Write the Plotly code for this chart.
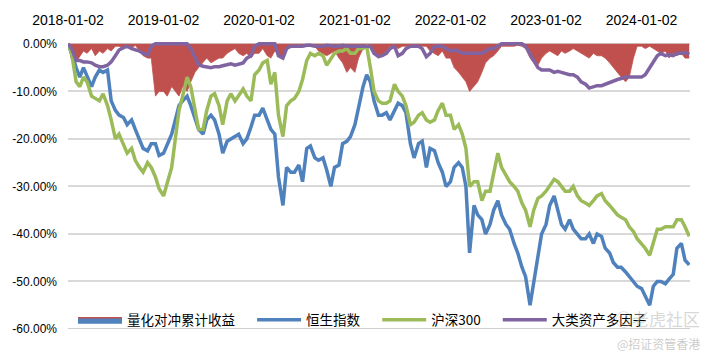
import plotly.graph_objects as go

# semi-monthly observation dates (category axis of the chart)
DATES = [f"{y}-{m:02d}-{d:02d}" for y in range(2018, 2025) for m in range(1, 13)
         for d in (2, 16) if (y, m, d) <= (2024, 7, 2)]

# 量化对冲累计收益 (drawdown, %)
HEDGE = (
    [0, -3.5, -3.8, -2.5, -1.5, -2, -1, -2.5, -1.5, -2, -1, -1.5, -0.5, -0.5, -1, -0.5, -1, -0.3, -1.5, -2.5, -3, -3, -11, -10]
    + [-10, -11, -9, -10, -11, -9, -10, -8, -6, -5, -4, -3, -4, -3.5, -3, -3, -2, -1.5, -1, -2, -2.5, -2, -3, -2]
    + [-2, -1, -2.5, -3, -1.5, -2, -3, -1, -0.5, -0.5, -0.3, -0.5, -0.5, -0.3, -0.5, -1.5, -2, -2.5, -2, -1.5, -3, -4, -6, -5]
    + [-6, -3, -1, 0, -1, -2, -3, -2.5, -1.5, -0.5, -0.5, -1, -0.5, -0.5, -0.5, -0.3, -0.5, -0.5, -0.5, -1.5, -2, -2.5, -1.5, -3]
    + [-3, -5, -6, -7, -8, -10, -9, -8, -6, -4, -3, -2.5, -1.5, -0.5, -0.5, -0.5, -0.5, -0.3, -0.5, -1, -3, -4, -4.5, -3]
    + [-2, -1.5, -2, -2.5, -1.5, -2, -1.5, -1, -1.5, -2, -2.5, -3, -2, -2.5, -2.5, -3, -4, -5, -6, -7, -8, -7, -3, -0.5]
    + [-0.5, -1, -0.5, -1, -1.5, -2, -1.5, -3, -2, -2.5, -2, -3, -3]
)

# 恒生指数
HSI = (
    [0, -2, -5, -7, -5, -7, -9, -7, -5.5, -6, -5.5, -12, -14, -15, -15.5, -17, -16, -18, -20, -22, -22.5, -21, -21, -23.5]
    + [-23, -21, -19, -16, -13, -12, -11, -13, -16, -18, -19, -16, -15, -16, -19, -23, -20.5, -20, -19.5, -19, -21, -20, -17.5, -15]
    + [-15, -13.5, -16, -18, -19, -28, -34, -26, -27, -27, -25.5, -29, -22, -21.5, -24, -24.5, -24, -26.5, -30, -26, -25.5, -21, -20.5, -19.5]
    + [-17, -13, -9, -6.5, -8, -12, -15, -15, -14.5, -16, -14, -12.5, -13, -14.5, -21, -24, -21, -20.5, -26, -22, -22.5, -25, -27, -30]
    + [-29, -26, -25, -26, -30, -44, -34, -36, -37, -40, -38, -35, -33, -36, -38, -39, -42, -44, -47, -49, -55, -50, -44, -40]
    + [-38, -34, -32, -35, -38, -39, -37, -39, -40, -41, -41, -40, -42, -40, -40.5, -43, -44, -46, -47, -47, -48, -49, -50, -51]
    + [-51.5, -53, -55, -51, -50, -50, -50.5, -49.5, -48.5, -43, -42, -45.5, -46.5]
)

# 沪深300
CSI300 = (
    [0, -2, -8, -9, -7, -8, -11, -11.5, -12, -10.5, -13, -16, -20, -19, -21, -23, -22, -24.5, -26, -27, -25, -26, -28, -30.5]
    + [-32, -29, -26, -20, -14, -11, -7, -9, -14, -18, -18, -14, -11, -10.5, -13, -17, -12, -10.5, -12, -11, -9.5, -11, -12, -6.5]
    + [-5.5, -4, -3.5, -8.5, -6, -15, -19.5, -13, -12, -11.5, -10, -7.5, -3.5, -2, -2.5, -2, -2.5, -4.5, -3, -2, -1.5, -1.5, -1, -2]
    + [-2, -1, -1, -0.5, -5, -10, -12, -12.5, -12.5, -12, -8.5, -10, -11, -13, -17, -16.5, -15, -14.5, -16, -16.5, -16, -14, -12.5, -15]
    + [-15, -18, -17, -19, -22, -30, -29, -29, -33, -31, -31, -27, -23, -26, -27.5, -29, -30, -31, -33.5, -35, -38.5, -35, -32.5, -32]
    + [-31, -30, -28.5, -29, -30, -31, -31, -30, -32, -33, -33.5, -34, -33, -32, -31.5, -33, -34, -35, -36, -36.5, -37, -38.5, -39.5, -41]
    + [-42, -43, -44.5, -42, -39, -39, -38.5, -38.5, -38.5, -37, -37, -38.5, -40.5]
)

# 大类资产多因子
MULTI = (
    [0, -1, -3.5, -3.5, -3.8, -3.8, -4, -4.5, -4.8, -4.8, -4.5, -3.8, -2.5, -1.3, -0.8, -0.5, -1, -1.2, -1.5, -2, -2.3, -0.5, 0, 0]
    + [0, 0, 0, 0, 0, 0, 0, -1, -3, -4.4, -4.7, -4.8, -5, -4.8, -4.8, -4.6, -4.3, -4.2, -4.5, -4.2, -4, -3, -2.5, -0.5]
    + [0, 0, 0, 0, 0, -2.5, -3, -1, -0.5, -0.5, -0.5, -0.5, -0.3, -0.3, -0.5, -0.5, -0.5, -0.3, -0.5, -0.5, -0.5, -0.3, -0.5, -0.5]
    + [-0.5, -0.5, -0.5, -0.5, -0.5, -2, -2.7, -2.5, -2, -1, -0.5, -2.5, -2, -1, -0.5, -0.5, -0.5, -1, -2.7, -2, -0.5, -0.5, -0.5, -1]
    + [-1.5, -1.3, -1.5, -2, -2, -2, -2, -2, -2, -1.5, -1, -1, -0.5, 0, 0, 0, 0, 0, 0, -0.5, -2, -3.5, -5, -5.5]
    + [-5.5, -5.5, -6, -5.8, -6, -6.2, -6.5, -6.5, -7, -8, -8.5, -9.3, -9, -8.8, -8.8, -8.5, -8, -7.8, -7.5, -7.3, -7, -7, -7, -7]
    + [-7, -6.5, -5, -3.5, -2.5, -2, -2.5, -2.3, -2.5, -2, -2, -1.8, -2.2]
)

assert len(DATES) == len(HEDGE) == len(HSI) == len(CSI300) == len(MULTI), (
    len(DATES), len(HEDGE), len(HSI), len(CSI300), len(MULTI))

SERIES_NAMES = ["量化对冲累计收益", "恒生指数", "沪深300", "大类资产多因子"]
X_TICKS = ["2018-01-02", "2019-01-02", "2020-01-02", "2021-01-02",
           "2022-01-02", "2023-01-02", "2024-01-02"]
Y_TICKS = [0, -10, -20, -30, -40, -50, -60]
Y_TICK_TEXT = ["0.00%", "-10.00%", "-20.00%", "-30.00%", "-40.00%", "-50.00%", "-60.00%"]
X_RANGE = ["2018-01-02", "2024-07-05"]
Y_RANGE = [-60, 0.6]

RED, BLUE, GREEN, PURPLE = "#C0504D", "#4F81BD", "#9BBB59", "#8064A2"
PAD = "\u00a0\u00a0\u00a0\u00a0"

fig = go.Figure()
fig.add_trace(go.Scatter(x=DATES, y=HEDGE, mode="lines", fill="tozeroy",
                         fillcolor=RED, line=dict(color=RED, width=0.8),
                         showlegend=False, hoverinfo="skip"))
# legend proxy (Excel shows a blue box with red border)
fig.add_trace(go.Scatter(x=[None], y=[None], mode="lines", fill="toself",
                         fillcolor=BLUE, line=dict(color=RED, width=1.5),
                         name=SERIES_NAMES[0] + PAD))
fig.add_trace(go.Scatter(x=DATES, y=HSI, mode="lines", name=SERIES_NAMES[1] + PAD,
                         line=dict(color=BLUE, width=3.5)))
fig.add_trace(go.Scatter(x=DATES, y=CSI300, mode="lines", name=SERIES_NAMES[2] + PAD,
                         line=dict(color=GREEN, width=3.5)))
fig.add_trace(go.Scatter(x=DATES, y=MULTI, mode="lines", name=SERIES_NAMES[3],
                         line=dict(color=PURPLE, width=3.5)))

fig.update_layout(
    width=712, height=356,
    margin=dict(l=68, r=22, t=41, b=27),
    paper_bgcolor="white", plot_bgcolor="white",
    font=dict(family="Liberation Sans, Arial, sans-serif", color="#000000"),
    legend=dict(orientation="h", x=0.008, y=0.031, xanchor="left", yanchor="middle",
                bgcolor="rgba(0,0,0,0)", itemwidth=44,
                font=dict(family="Noto Sans CJK SC, sans-serif", size=13.5, color="#000")),
    xaxis=dict(type="date", range=X_RANGE, side="top", tickvals=X_TICKS, ticktext=X_TICKS,
               showgrid=False, zeroline=False, showline=False, automargin=False,
               ticks="", ticklabelstandoff=12,
               tickfont=dict(size=14, color="#000")),
    yaxis=dict(range=Y_RANGE, tickvals=Y_TICKS, ticktext=Y_TICK_TEXT, automargin=False,
               showgrid=True, gridcolor="#D9D9D9", gridwidth=1.5, zeroline=False,
               ticks="", ticklabelstandoff=10,
               tickfont=dict(size=12, color="#000")),
    shapes=[dict(type="line", xref="paper", x0=0, x1=1, yref="y",
                 y0=Y_RANGE[0], y1=Y_RANGE[0], line=dict(color="#BFBFBF", width=1.5))],
    annotations=[
        dict(text="◎老虎社区", xref="paper", yref="paper", x=1.02, y=0.035,
             xanchor="right", yanchor="middle", showarrow=False,
             font=dict(family="Noto Sans CJK SC", size=17, color="rgba(180,180,180,0.55)")),
        dict(text="@招证资管香港", xref="paper", yref="paper", x=1.02, y=-0.05,
             xanchor="right", yanchor="middle", showarrow=False,
             font=dict(family="Noto Sans CJK SC", size=12, color="rgba(180,180,180,0.7)")),
    ],
)

fig.write_html("out.html",
               config={"displayModeBar": False},
               post_script="document.documentElement.style.margin='0';"
                           "document.body.style.margin='0';document.body.style.padding='0';")
